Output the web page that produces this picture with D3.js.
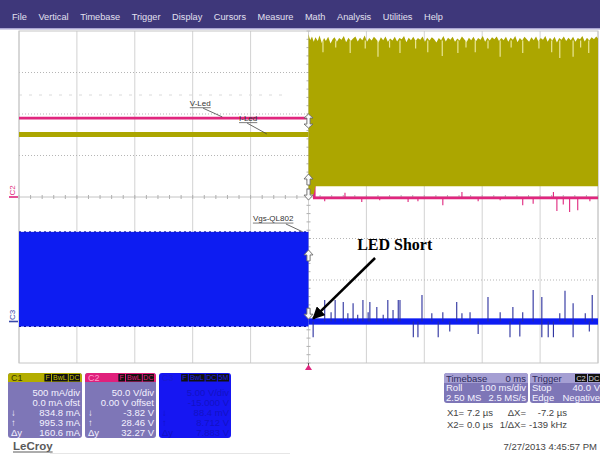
<!DOCTYPE html>
<html><head><meta charset="utf-8">
<script src="https://cdn.jsdelivr.net/npm/d3@7"></script>
<style>
html,body{margin:0;padding:0;background:#fff;}
svg{display:block;font-family:"Liberation Sans",Arial,sans-serif;}
</style></head><body>
<svg id="c" width="600" height="455"></svg>
<script>
// ---------------- DATA ----------------
const menuItems = ["File","Vertical","Timebase","Trigger","Display","Cursors","Measure","Math","Analysis","Utilities","Help"];
const timeDomain = [-500, 500];          // ms, 100 ms/div, trigger at 0
const divDomain = [-4, 4];               // vertical divisions
const channelNames = ["C1","C2","C3"];
const vdiv = [500, 50, 5];               // mA/div, V/div, V/div
const offsets = [0, 0, -15];             // channel offsets (units)

// C1  I-Led (mA)
const c1Before = [[-500, 753], [0, 753]];
const c1Top = [[0,1960],[3,1890],[6,1935],[9,1870],[12,1925],[16,1880],[19,1945],[23,1855],[27,1915],[30,1880],[34,1930],[38,1850],[42,1905],[45,1925],[49,1870],[53,1915],[57,1895],[61,1940],[65,1865],[69,1920],[73,1880],[77,1910],[81,1935],[85,1875],[89,1920],[93,1890],[97,1945],[101,1870],[105,1915],[109,1885],[113,1930],[117,1900],[121,1860],[125,1925],[129,1890],[133,1935],[137,1870],[141,1910],[145,1885],[149,1930],[153,1875],[157,1915],[161,1900],[165,1940],[169,1865],[173,1920],[177,1890],[181,1930],[185,1880],[189,1915],[193,1895],[197,1935],[201,1870],[205,1920],[209,1885],[213,1925],[217,1900],[221,1860],[225,1915],[229,1890],[233,1940],[237,1875],[241,1920],[245,1895],[249,1930],[253,1870],[257,1910],[261,1885],[265,1935],[269,1900],[273,1865],[277,1920],[281,1890],[285,1930],[289,1875],[293,1915],[297,1895],[301,1940],[305,1870],[309,1920],[313,1885],[317,1925],[321,1900],[325,1935],[329,1880],[333,1915],[337,1890],[341,1930],[345,1870],[349,1920],[353,1895],[357,1940],[361,1865],[365,1915],[369,1885],[373,1930],[377,1900],[381,1870],[385,1925],[389,1890],[393,1935],[397,1875],[401,1915],[405,1895],[409,1940],[413,1870],[417,1920],[421,1885],[425,1930],[429,1860],[433,1915],[437,1895],[441,1935],[445,1880],[449,1920],[453,1890],[457,1930],[461,1870],[465,1915],[469,1900],[473,1940],[477,1875],[481,1920],[485,1885],[489,1925],[493,1900],[497,1935],[500,1910]];
const c1Bottom = [[0,30],[11,30],[12,130],[500,130]];
const c1Dips = [[25,1745],[47,1800],[72,1735],[98,1790],[120,1690],[140,1800],[158,1735],[185,1790],[206,1745],[231,1700],[258,1735],[272,1800],[288,1745],[310,1790],[331,1690],[350,1800],[370,1735],[398,1790],[420,1745],[434,1675],[457,1690],[470,1800],[484,1735]];

// C2  V-Led (V)
const c2Trace = [[-500,95],[10,95],[10,-1],[500,-1]];
const c2Spikes = [[28,-5],[63,5],[92,-6],[123,-4],[172,-6],[189,-5],[232,-10],[265,6],[293,-5],[331,-4],[370,-10],[388,-8],[423,6],[429,-17],[440,-9],[451,-18],[465,-16],[486,-5]];

// C3  Vgs-QL802 (V)
const c3Block = {t0:-500, t1:0, top:10.8, bottom:-0.6};
const c3Base = {t0:0, t1:500, hi:0.38, lo:-0.38};
const c3Spikes = [[8,-1.9],[28,2.6],[39,1.1],[46,2.6],[60,2.35],[68,1.0],[77,2.2],[85,0.8],[94,2.6],[103,1.1],[106,2.35],[118,1.75],[129,0.8],[137,2.6],[146,1.4],[155,2.6],[158,2.6],[181,-1.9],[189,-1.9],[196,3.2],[213,1.0],[224,-1.9],[232,1.1],[244,-1.2],[256,2.35],[265,1.0],[279,1.1],[293,-1.5],[310,2.95],[331,1.1],[348,-1.9],[353,1.75],[365,-1.8],[370,1.1],[388,3.8],[403,2.95],[403,-1.9],[414,-1.9],[423,-1.9],[434,1.0],[443,3.7],[457,2.2],[457,-1.9],[478,1.0],[485,-1.2],[490,3.2]];

// markers at trigger position (divisions) and annotations
const trigMarkers = [{t:0, div:1.83, dir:"both"},{t:0, div:0.41, dir:"up"},{t:0, div:0.07, dir:"down"},{t:0, div:-1.42, dir:"up"},{t:0, div:-2.8, dir:"down"}];
const traceLabels = [
  {text:"V-Led", t:-205, div:2.2, lt0:-182, ld0:2.14, lt1:-149, ld1:1.93},
  {text:"I-Led", t:-120, div:1.84, lt0:-106, ld0:1.78, lt1:-72, ld1:1.52},
  {text:"Vgs-QL802", t:-96, div:-0.58, lt0:-39, ld0:-0.65, lt1:-10, ld1:-0.84}
];
const callout = {text:"LED Short", t:84, div:-1.28, a0:[115,-1.47], a1:[8,-2.93]};

// readout panels
const c1Rows = [["","500 mA/div"],["","0.0 mA ofst"],["\u2193","834.8 mA"],["\u2191","995.3 mA"],["\u0394y","160.6 mA"]];
const c2Rows = [["","50.0 V/div"],["","0.00 V offset"],["\u2193","-3.82 V"],["\u2191","28.46 V"],["\u0394y","32.27 V"]];
const c3Rows = [["","5.00 V/div"],["","-15.000 V"],["\u2193","88.4 mV"],["\u2191","8.712 V"],["\u0394y","7.883 V"]];
const timebaseRows = [["Timebase","0 ms"],["Roll","100 ms/div"],["2.50 MS","2.5 MS/s"]];
const triggerRows = [["Trigger",""],["Stop","40.0 V"],["Edge","Negative"]];
const cursorRows = [["X1=","7.2 \u00b5s","\u0394X=","-7.2 \u00b5s"],["X2=","0.0 \u00b5s","1/\u0394X=","-139 kHz"]];
const dateText = "7/27/2013 4:45:57 PM";
const brand = "LeCroy";

// ---------------- DRAW ----------------
const svg = d3.select("#c");
const COL = {c1:"#aca600", c2:"#e0267e", c3:"#0d1cf2", grid:"#d2d2d2", menu:"#3e377a", panel:"#7e76b7"};
const x = d3.scaleLinear().domain(timeDomain).range([19, 598]);
const y = d3.scaleLinear().domain(divDomain).range([363, 31]);
const toDiv = (ch, v) => (v + offsets[ch]) / vdiv[ch];
const yv = (ch, v) => y(toDiv(ch, v));

// menu bar
svg.append("rect").attr("x",0).attr("y",0).attr("width",600).attr("height",29).attr("fill",COL.menu);
svg.append("rect").attr("x",0).attr("y",28).attr("width",600).attr("height",1.5).attr("fill","#aaa5d2");
let mx = 12;
menuItems.forEach(m => {
  const t = svg.append("text").attr("x",mx).attr("y",20).attr("font-size",9.2).attr("fill","#e2e0f0").text(m);
  mx += t.node().getComputedTextLength() + 11.6;
});

// grid
const grid = svg.append("g");
grid.selectAll(".vg").data(x.ticks(10)).join("line")
  .attr("x1",d=>x(d)).attr("x2",d=>x(d)).attr("y1",y(4)).attr("y2",y(-4))
  .attr("stroke",COL.grid).attr("stroke-width",1);
grid.selectAll(".hg").data(y.ticks(8).filter(d=>d!==0 && Math.abs(d)!==4)).join("line")
  .attr("x1",x(-500)).attr("x2",x(500)).attr("y1",d=>y(d)).attr("y2",d=>y(d))
  .attr("stroke","#b5b5b5").attr("stroke-dasharray","1,2");
grid.append("line").attr("x1",x(-500)).attr("x2",x(500)).attr("y1",y(0)).attr("y2",y(0)).attr("stroke","#c4c4c4");
grid.selectAll(".ht").data(d3.range(-500,501,20)).join("line")
  .attr("x1",d=>x(d)).attr("x2",d=>x(d)).attr("y1",y(0)-2).attr("y2",y(0)+2).attr("stroke","#b0b0b0");
grid.selectAll(".vt").data(d3.range(-4,4.01,0.2)).join("line")
  .attr("x1",x(0)-2).attr("x2",x(0)+2).attr("y1",d=>y(d)).attr("y2",d=>y(d)).attr("stroke","#b0b0b0");
grid.append("line").attr("x1",x(-500)).attr("x2",x(-40)).attr("y1",95).attr("y2",95)
  .attr("stroke","#dadada").attr("stroke-dasharray","3,7");
grid.append("rect").attr("x",x(-500)).attr("y",y(4)).attr("width",x(500)-x(-500)).attr("height",y(-4)-y(4))
  .attr("fill","none").attr("stroke","#c6c6c6");

const line = (ch) => d3.line().x(d=>x(d[0])).y(d=>yv(ch,d[1]));

// C3 blue
const g3 = svg.append("g");
g3.append("rect").attr("x",x(c3Block.t0)).attr("width",x(c3Block.t1)-x(c3Block.t0))
  .attr("y",yv(2,c3Block.top)).attr("height",yv(2,c3Block.bottom)-yv(2,c3Block.top)).attr("fill",COL.c3);
[c3Block.top, c3Block.bottom].forEach(v=>{
  g3.append("line").attr("x1",x(c3Block.t0)).attr("x2",x(c3Block.t1)).attr("y1",yv(2,v)).attr("y2",yv(2,v))
    .attr("stroke","#0a10a0").attr("stroke-width",1).attr("stroke-dasharray","2,3");
});
g3.append("rect").attr("x",x(c3Base.t0)).attr("width",x(c3Base.t1)-x(c3Base.t0))
  .attr("y",yv(2,c3Base.hi)).attr("height",yv(2,c3Base.lo)-yv(2,c3Base.hi)).attr("fill",COL.c3);
g3.selectAll(".sp").data(c3Spikes).join("line")
  .attr("x1",d=>x(d[0])).attr("x2",d=>x(d[0])).attr("y1",yv(2,0)).attr("y2",d=>yv(2,d[1]))
  .attr("stroke","#2a2f9e").attr("stroke-width",1.1);

// C2 magenta
const g2 = svg.append("g");
g2.selectAll(".sp").data(c2Spikes).join("line")
  .attr("x1",d=>x(d[0])).attr("x2",d=>x(d[0])).attr("y1",yv(1,-1)).attr("y2",d=>yv(1,d[1]))
  .attr("stroke",COL.c2).attr("stroke-width",1.1);
g2.append("path").datum(c2Trace).attr("d",line(1)).attr("fill","none").attr("stroke",COL.c2).attr("stroke-width",2.6);

// C1 yellow
const g1 = svg.append("g");
g1.append("path").datum(c1Before).attr("d",line(0)).attr("fill","none").attr("stroke",COL.c1).attr("stroke-width",5);
const bottomAt = t => { let v = c1Bottom[0][1]; c1Bottom.forEach(p=>{ if (p[0] <= t) v = p[1]; }); return v; };
const area1 = d3.area().x(d=>x(d[0])).y0(d=>yv(0,bottomAt(d[0]))).y1(d=>yv(0,d[1]));
g1.append("path").datum(c1Top).attr("d",area1).attr("fill",COL.c1);
g1.selectAll(".dip").data(c1Dips).join("line")
  .attr("x1",d=>x(d[0])).attr("x2",d=>x(d[0])).attr("y1",yv(0,1885)).attr("y2",d=>yv(0,d[1]))
  .attr("stroke","#e9e595").attr("stroke-width",1.2);

// trigger markers
function arrowPath(cx, cy, dir){
  const up = `M${cx},${cy-6}L${cx+4.5},${cy-1}L${cx+1.6},${cy-1}L${cx+1.6},${cy+5}L${cx-1.6},${cy+5}L${cx-1.6},${cy-1}L${cx-4.5},${cy-1}Z`;
  const down = `M${cx},${cy+6}L${cx+4.5},${cy+1}L${cx+1.6},${cy+1}L${cx+1.6},${cy-5}L${cx-1.6},${cy-5}L${cx-1.6},${cy+1}L${cx-4.5},${cy+1}Z`;
  const both = `M${cx},${cy-7}L${cx+4.5},${cy-3}L${cx+1.6},${cy-3}L${cx+1.6},${cy+3}L${cx+4.5},${cy+3}L${cx},${cy+7}L${cx-4.5},${cy+3}L${cx-1.6},${cy+3}L${cx-1.6},${cy-3}L${cx-4.5},${cy-3}Z`;
  return dir==="up"?up:dir==="down"?down:both;
}
svg.append("g").selectAll("path").data(trigMarkers).join("path")
  .attr("d",d=>arrowPath(x(d.t), y(d.div), d.dir)).attr("fill","#fbfbfb").attr("stroke","#6a6a6a").attr("stroke-width",0.9);

// trigger position at bottom
svg.append("line").attr("x1",x(0)).attr("x2",x(0)).attr("y1",y(-4)).attr("y2",y(-4)+3).attr("stroke","#555");
svg.append("path").attr("d",`M${x(0)},${y(-4)+1.5}L${x(0)+3.5},${y(-4)+7}L${x(0)-3.5},${y(-4)+7}Z`).attr("fill",COL.c2);

// channel ground markers
[[1,"C2",COL.c2],[2,"C3","#3848a8"]].forEach(([ch,name,col])=>{
  const gy = yv(ch,0);
  svg.append("line").attr("x1",9).attr("x2",18).attr("y1",gy).attr("y2",gy).attr("stroke",col).attr("stroke-width",1.6);
  svg.append("text").attr("transform",`translate(15,${gy-1.5}) rotate(-90)`).attr("font-size",8).attr("fill",col).text(name);
});

// trace labels
traceLabels.forEach(l=>{
  const t = svg.append("text").attr("x",x(l.t)).attr("y",y(l.div)).attr("font-size",8).attr("fill","#333").text(l.text);
  const w = t.node().getComputedTextLength();
  svg.append("line").attr("x1",x(l.t)).attr("x2",x(l.t)+w).attr("y1",y(l.div)+2).attr("y2",y(l.div)+2).attr("stroke","#444").attr("stroke-width",0.7);
  svg.append("line").attr("x1",x(l.lt0)).attr("y1",y(l.ld0)).attr("x2",x(l.lt1)).attr("y2",y(l.ld1)).attr("stroke","#444").attr("stroke-width",0.8);
});

// callout
svg.append("defs").append("marker").attr("id","ah").attr("viewBox","0 0 10 10").attr("refX",9).attr("refY",5)
  .attr("markerWidth",5).attr("markerHeight",5).attr("orient","auto")
  .append("path").attr("d","M0,0L10,5L0,10Z").attr("fill","#000");
svg.append("text").attr("x",x(callout.t)).attr("y",y(callout.div)).attr("font-family","'Liberation Serif','Times New Roman',serif")
  .attr("font-weight","bold").attr("font-size",16).attr("fill","#000").text(callout.text);
svg.append("line").attr("x1",x(callout.a0[0])).attr("y1",y(callout.a0[1])).attr("x2",x(callout.a1[0])).attr("y2",y(callout.a1[1]))
  .attr("stroke","#000").attr("stroke-width",2.5).attr("marker-end","url(#ah)");

// ---- readout panels ----
function chanBox(x0, w, headCol, name, nameCol, bodyCol, textCol, rows, tagText, tagCol){
  const g = svg.append("g");
  g.append("rect").attr("x",x0).attr("y",373).attr("width",w).attr("height",65).attr("rx",3).attr("fill",bodyCol);
  if (headCol){
    g.append("path").attr("d",`M${x0},382V376Q${x0},373 ${x0+3},373H${x0+w-3}Q${x0+w},373 ${x0+w},376V382Z`).attr("fill",headCol);
  }
  g.append("text").attr("x",x0+3).attr("y",381).attr("font-size",9).attr("fill",nameCol).text(name);
  let tx = x0 + w - 2;
  tagText.slice().reverse().forEach(tg=>{
    const tw = tg.length*4.6 + 2;
    tx -= tw;
    g.append("rect").attr("x",tx).attr("y",374).attr("width",tw).attr("height",7.5).attr("fill","#111");
    g.append("text").attr("x",tx+tw/2).attr("y",380.3).attr("text-anchor","middle").attr("font-size",7).attr("fill",tagCol).text(tg);
    tx -= 1;
  });
  rows.forEach((r,i)=>{
    const yy = 396 + i*10;
    if (r[0]) g.append("text").attr("x",x0+3).attr("y",yy).attr("font-size",9.5).attr("fill",textCol).text(r[0]);
    g.append("text").attr("x",x0+w-2).attr("y",yy).attr("text-anchor","end").attr("font-size",9.5).attr("fill",textCol).text(r[1]);
  });
}
chanBox(8, 74, "#b3ad00", channelNames[0], "#3a3800", COL.panel, "#f4f2ff", c1Rows, ["F","BwL","DC"], "#c8c200");
chanBox(85, 71, "#e0207c", channelNames[1], "#ff9ccb", COL.panel, "#f4f2ff", c2Rows, ["F","BwL","DC"], "#e0207c");
chanBox(159, 72, null, channelNames[2], "#1a1ad0", "#1616f2", "#1212c4", c3Rows, ["F","BwL","DC","5M"], "#2222e0");

function infoBox(x0, w, rows, tags){
  const g = svg.append("g");
  g.append("rect").attr("x",x0).attr("y",373).attr("width",w).attr("height",30).attr("rx",3).attr("fill",COL.panel);
  g.append("path").attr("d",`M${x0},383V376Q${x0},373 ${x0+3},373H${x0+w-3}Q${x0+w},373 ${x0+w},376V383Z`).attr("fill","#a59fd3");
  rows.forEach((r,i)=>{
    const yy = 381.5 + i*9.5;
    const col = i===0 ? "#2e2a5c" : "#f4f2ff";
    g.append("text").attr("x",x0+2).attr("y",yy).attr("font-size",9.5).attr("fill",col).text(r[0]);
    if (r[1]) g.append("text").attr("x",x0+w-2).attr("y",yy).attr("text-anchor","end").attr("font-size",9.5).attr("fill",col).text(r[1]);
  });
  if (tags){
    let tx = x0 + w - 2;
    tags.slice().reverse().forEach(tg=>{
      const tw = tg.length*5 + 2; tx -= tw;
      g.append("rect").attr("x",tx).attr("y",374).attr("width",tw).attr("height",8).attr("fill","#111");
      g.append("text").attr("x",tx+tw/2).attr("y",380.6).attr("text-anchor","middle").attr("font-size",7.5).attr("fill","#ddd").text(tg);
      tx -= 1;
    });
  }
}
infoBox(444, 84, timebaseRows, null);
infoBox(530, 72, triggerRows, ["C2","DC"]);

cursorRows.forEach((r,i)=>{
  const yy = 416 + i*12;
  svg.append("text").attr("x",447).attr("y",yy).attr("font-size",9.5).attr("fill","#444").text(r[0]);
  svg.append("text").attr("x",493).attr("y",yy).attr("text-anchor","end").attr("font-size",9.5).attr("fill","#444").text(r[1]);
  svg.append("text").attr("x",526).attr("y",yy).attr("text-anchor","end").attr("font-size",9.5).attr("fill","#444").text(r[2]);
  svg.append("text").attr("x",567).attr("y",yy).attr("text-anchor","end").attr("font-size",9.5).attr("fill","#444").text(r[3]);
});
svg.append("text").attr("x",597).attr("y",450).attr("text-anchor","end").attr("font-size",9.5).attr("fill","#444").text(dateText);
const bt = svg.append("text").attr("x",13).attr("y",450).attr("font-size",11.5).attr("font-weight","bold").attr("fill","#5a5a5a").text(brand);
svg.append("line").attr("x1",13).attr("x2",13+bt.node().getComputedTextLength()).attr("y1",452).attr("y2",452).attr("stroke","#5a5a5a");
svg.append("line").attr("x1",50).attr("x2",290).attr("y1",453.5).attr("y2",453.5).attr("stroke","#e6e6e6");
</script></body></html>
